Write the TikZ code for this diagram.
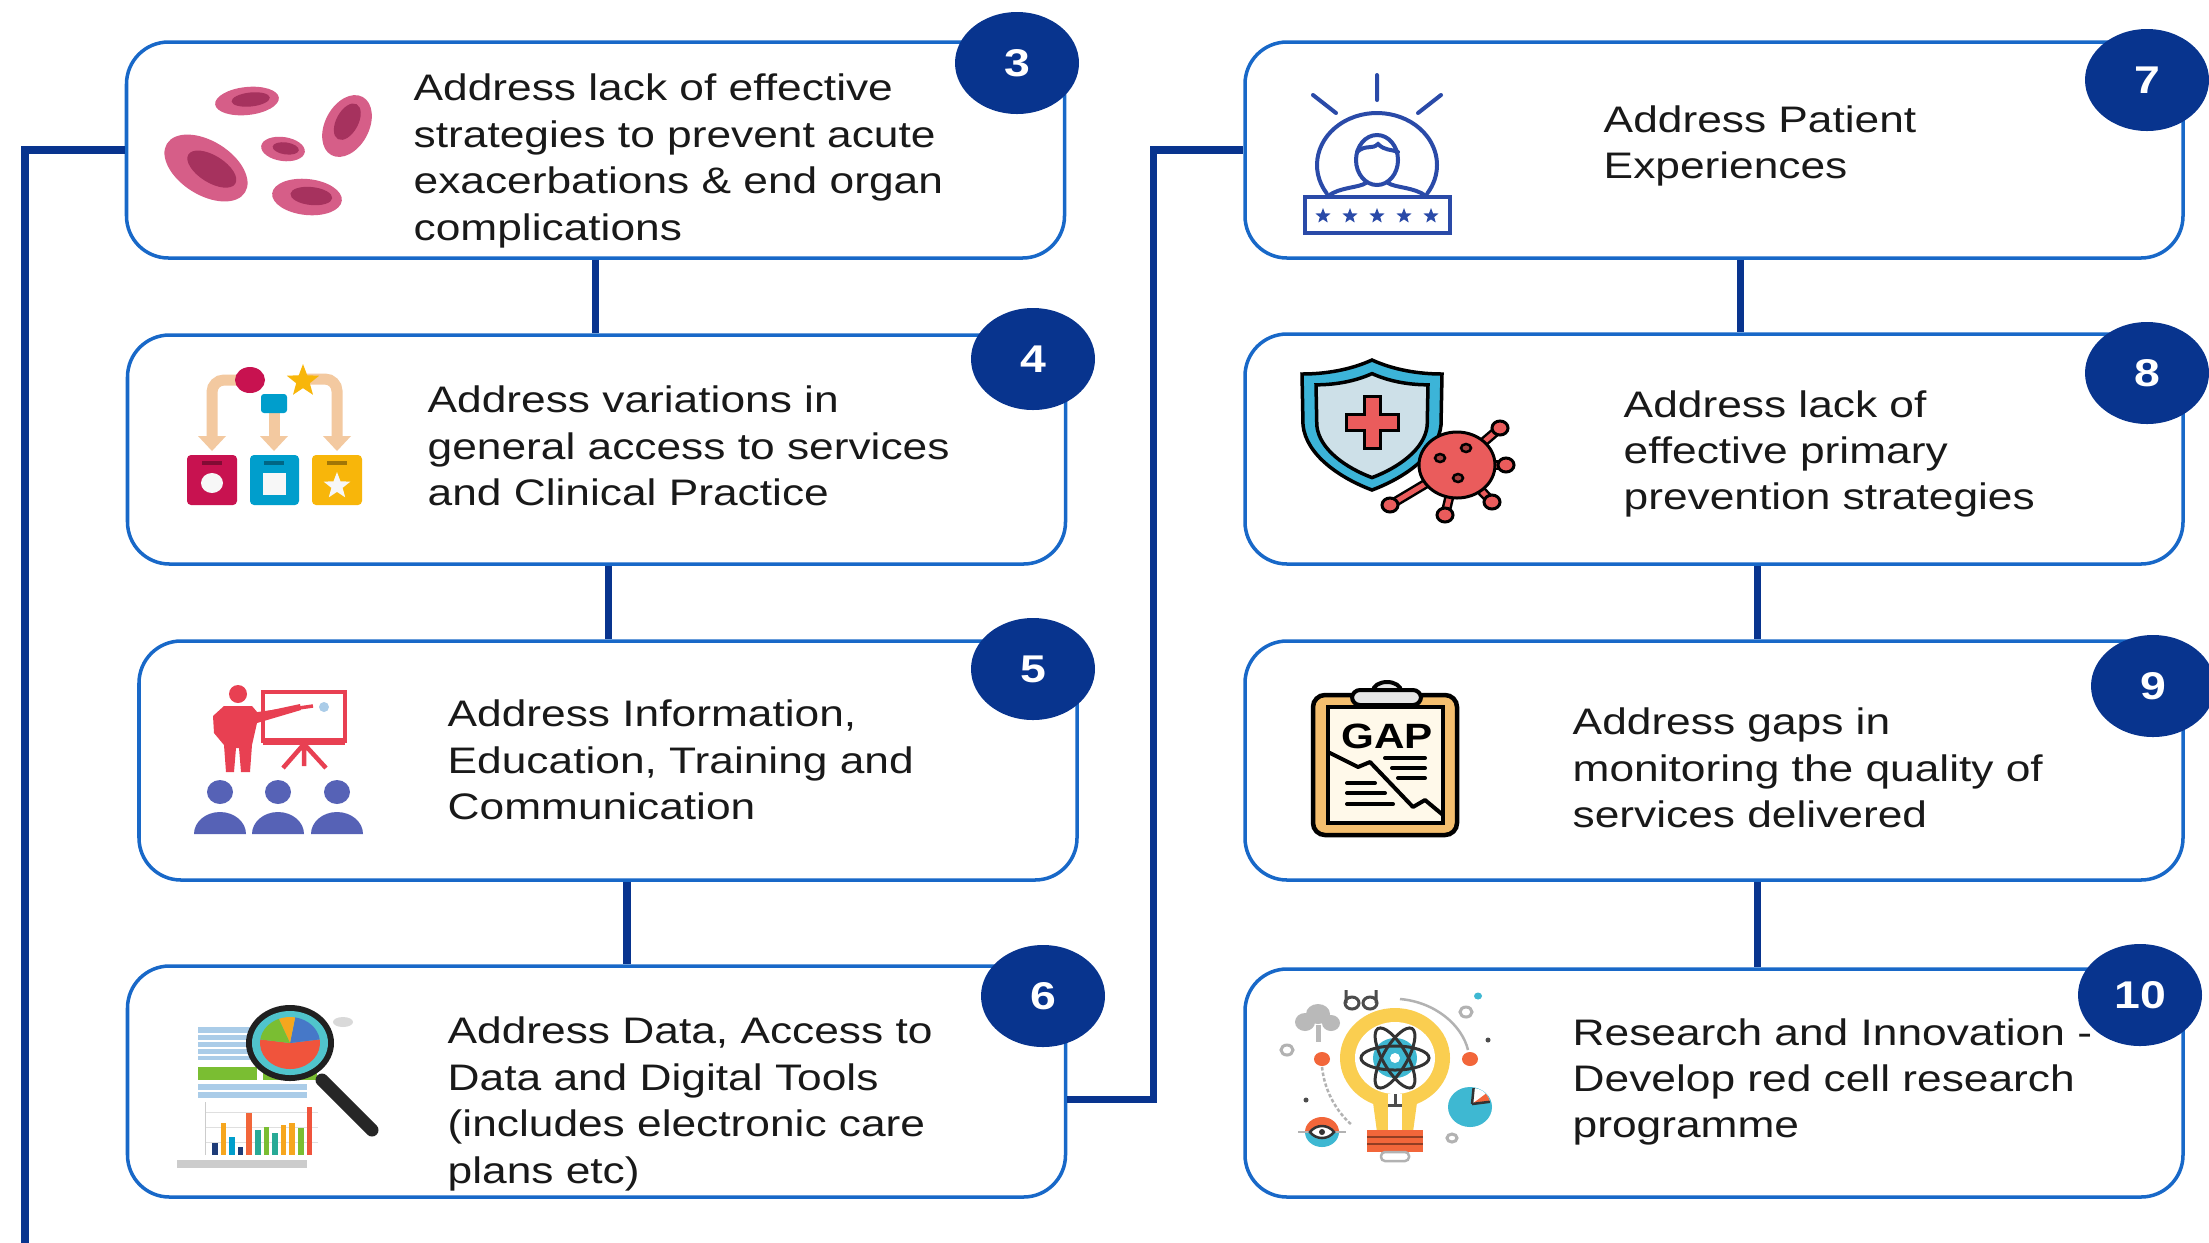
\documentclass[tikz,border=0pt]{standalone}
\usepackage{fontspec}
\setmainfont{Liberation Sans}[FakeStretch=1.2]
\usetikzlibrary{positioning,shapes.geometric,calc}

\definecolor{navy}{RGB}{8,52,142}
\definecolor{cardblue}{RGB}{24,104,200}
\definecolor{cellpink}{RGB}{214,94,136}
\definecolor{cellcore}{RGB}{166,50,94}
\definecolor{tanarrow}{RGB}{243,201,160}
\definecolor{crimson}{RGB}{200,18,80}
\definecolor{skyblue}{RGB}{0,158,204}
\definecolor{amber}{RGB}{248,182,10}
\definecolor{teachred}{RGB}{232,64,82}
\definecolor{crowd}{RGB}{86,98,182}
\definecolor{paleblue}{RGB}{170,204,232}
\definecolor{leaf}{RGB}{122,190,50}
\definecolor{lensteal}{RGB}{80,196,204}
\definecolor{pieblue}{RGB}{70,120,200}
\definecolor{piered}{RGB}{240,84,60}
\definecolor{pieorange}{RGB}{246,166,30}
\definecolor{barnavy}{RGB}{30,60,120}
\definecolor{barteal}{RGB}{40,170,150}
\definecolor{iconblue}{RGB}{42,74,168}
\definecolor{shieldcyan}{RGB}{60,180,216}
\definecolor{shieldpale}{RGB}{205,224,232}
\definecolor{virusred}{RGB}{234,92,92}
\definecolor{clipamber}{RGB}{244,190,110}
\definecolor{papercream}{RGB}{255,249,234}
\definecolor{bulbyellow}{RGB}{250,206,80}
\definecolor{atomteal}{RGB}{62,184,210}
\definecolor{flame}{RGB}{242,102,58}

\tikzset{
  card/.style={draw=cardblue, line width=1pt, rounded corners=4.2mm, fill=white,
    minimum width=93.8mm, inner sep=0pt},
  cardtext/.style={anchor=west, align=left, inner sep=0pt, text=black!90,
    font=\fontsize{10.5}{13.2}\selectfont},
  badge/.style={ellipse, fill=navy, text=white, inner sep=0pt,
    minimum width=12.4mm, minimum height=10.2mm, font=\fontsize{11}{11}\selectfont\bfseries},
  link/.style={draw=navy, line width=2pt},
  iconline/.style={draw=iconblue, line width=0.4mm, line cap=round},
}

\newcommand\starshape[4]{\fill[#4] (#1,#2) +(-90:#3)
  \foreach \k in {1,...,9}{ -- +({-90+36*\k}:{ifthenelse(isodd(\k),0.42*#3,#3)}) } -- cycle;}
\newcommand\bloodcell[5]{%
  \begin{scope}[rotate around={#5:(#1,#2)}]
    \fill[cellpink] (#1,#2) ellipse ({#3} and {#4});
    \fill[cellcore] ({#1+0.12*#3},{#2-0.08*#4}) ellipse ({0.6*#3} and {0.5*#4});
  \end{scope}}
\def\shieldpath{(1372,360) .. controls (1350,370) and (1325,374) .. (1302,374) -- (1303,425)
  .. controls (1306,455) and (1340,478) .. (1372,490) .. controls (1404,478) and (1438,455) .. (1441,425)
  -- (1442,374) .. controls (1419,374) and (1394,370) .. cycle}

\begin{document}
\begin{tikzpicture}[x=0.1mm,y=-0.1mm]
\useasboundingbox (0,0) rectangle (2209,1242);

% cards
\node[card, minimum height=21.6mm] (b3) at (595.5,150) {};
\node[card, minimum height=22.9mm] (b4) at (596.5,449.5) {};
\node[card, minimum height=23.9mm] (b5) at (608,760.5) {};
\node[card, minimum height=23.1mm] (b6) at (596.5,1081.5) {};
\node[card, minimum height=21.6mm] (b7) at (1714,150) {};
\node[card, minimum height=23.0mm] (b8) at (1714,449) {};
\node[card, minimum height=23.9mm] (b9) at (1714,760.5) {};
\node[card, minimum height=22.8mm] (b10) at (1714,1083) {};
\coordinate (rail) at (25,1260);

% links
\draw[link] (b3.west) -| (rail);
\draw[link] (b3.south) -- (b3.south |- b4.north);
\draw[link] ([xshift=1.2mm]b4.south) -- ([xshift=1.2mm]b4.south |- b5.north);
\draw[link] ([xshift=1.9mm]b5.south) -- ([xshift=1.9mm]b5.south |- b6.north);
\draw[link] ([yshift=-1.75mm]b6.east) -- ++(8.6mm,0) |- (b7.west);
\draw[link] ([xshift=2.6mm]b7.south) -- ([xshift=2.6mm]b7.south |- b8.north);
\draw[link] ([xshift=4.3mm]b8.south) -- ([xshift=4.3mm]b8.south |- b9.north);
\draw[link] ([xshift=4.3mm]b9.south) -- ([xshift=4.3mm]b9.south |- b10.north);

% texts
\node[cardtext] (t3) at (413,161) {Address lack of effective\\strategies to prevent acute\\exacerbations \& end organ\\complications};
\node[cardtext] (t4) at (427,446) {Address variations in\\general access to services\\and Clinical Practice};
\node[cardtext] (t5) at (447,760) {Address Information,\\Education, Training and\\Communication};
\node[cardtext] (t6) at (447,1104) {Address Data, Access to\\Data and Digital Tools\\(includes electronic care\\plans etc)};
\node[cardtext] (t7) at (1603,146) {Address Patient\\Experiences};
\node[cardtext] (t8) at (1623,454) {Address lack of\\effective primary\\prevention strategies};
\node[cardtext] (t9) at (1572,768) {Address gaps in\\monitoring the quality of\\services delivered};
\node[cardtext] (t10) at (1572,1082) {Research and Innovation -\\Develop red cell research\\programme};

% red cells
\bloodcell{206}{168}{46}{27}{-32}
\bloodcell{247}{101}{32}{14}{6}
\bloodcell{283}{149}{22}{12}{-8}
\bloodcell{347}{126}{33}{22}{62}
\bloodcell{307}{197}{35}{18}{-6}

% access flow
\begin{scope}[line width=1.1mm, tanarrow, rounded corners=1.2mm]
  \draw (250,380) -- (212,380) -- (212,438);
  \draw (274,405) -- (274,438);
  \draw (303,379) -- (337,379) -- (337,438);
\end{scope}
\foreach \x in {212,274,337}
  \fill[tanarrow] (\x-14,436) -- (\x+14,436) -- (\x,451) -- cycle;
\fill[crimson] (250,380) ellipse (15 and 13);
\starshape{303}{381}{17}{amber}
\fill[skyblue, rounded corners=0.3mm] (261,394) rectangle (287,413);
\fill[crimson, rounded corners=0.4mm] (187,455) rectangle (237,505);
\fill[skyblue, rounded corners=0.4mm] (250,455) rectangle (299,505);
\fill[amber, rounded corners=0.4mm] (312,455) rectangle (362,505);
\foreach \x in {212,274,337}
  \fill[black, opacity=.35] (\x-10,461) rectangle (\x+10,465);
\fill[white!94!gray] (212,483) ellipse (11 and 10);
\fill[white!94!gray] (263,473) rectangle (286,495);
\starshape{337}{486}{14}{white!94!gray}

% presenter and audience
\fill[teachred] (238,694) ellipse (9 and 9);
\fill[teachred] (224,706) -- (252,706) -- (258,713) -- (300,704) -- (301,710) -- (257,723)
  -- (252,745) -- (250,772) -- (241,772) -- (239,748) -- (236,748) -- (234,772) -- (226,772)
  -- (224,745) -- (214,733) -- (213,716) -- cycle;
\draw[teachred, line width=0.35mm] (256,714) -- (313,706);
\draw[teachred, line width=0.45mm] (263,692) rectangle (345,741);
\fill[teachred] (263,738) rectangle (345,745);
\draw[teachred, line width=0.45mm] (304,744) -- (283,768) (304,744) -- (326,768) (304,744) -- (304,766);
\fill[paleblue] (324,707) circle (5);
\foreach \x in {220,278,337}{
  \fill[crowd] (\x,792) ellipse (13 and 12);
  \fill[crowd] (\x-26,834) arc (180:360:26 and 22) -- cycle;
}

% data and magnifier
\fill[paleblue] (198,1027) rectangle (262,1060);
\foreach \y in {1034,1041,1048,1055} \draw[white, line width=0.15mm] (198,\y) -- (262,\y);
\fill[leaf] (198,1067) rectangle (257,1080);
\fill[leaf] (263,1067) rectangle (317,1080);
\fill[paleblue] (198,1084) rectangle (307,1098);
\draw[white, line width=0.15mm] (198,1091) -- (307,1091);
\foreach \y in {1112,1127,1142} \draw[gray!25, line width=0.1mm] (205,\y) -- (318,\y);
\draw[gray!40, line width=0.1mm] (205,1102) -- (205,1155);
\foreach \i/\h/\c in {0/12/barnavy,1/32/pieorange,2/18/skyblue,3/8/barnavy,4/42/flame,
  5/25/barteal,6/28/leaf,7/22/barteal,8/30/pieorange,9/32/pieorange,10/27/leaf,11/48/piered}
  \fill[\c] ({212+8.6*\i},1155) rectangle ++(5.5,-\h);
\fill[gray!40] (177,1160) rectangle (307,1168);
\fill[gray!30] (343,1022) ellipse (10 and 5);
\draw[gray!30!black, line width=1.3mm, line cap=round] (322,1080) -- (372,1130);
\fill[gray!25!black] (290,1043) ellipse (44 and 38);
\fill[lensteal] (290,1043) ellipse (38 and 32);
\fill[piered] (290,1043) -- +(-8:30 and 26) arc (-8:188:30 and 26) -- cycle;
\fill[pieblue] (290,1043) -- +(-8:30 and 26) arc (-8:-80:30 and 26) -- cycle;
\fill[pieorange] (290,1043) -- +(-80:30 and 26) arc (-80:-112:30 and 26) -- cycle;
\fill[leaf] (290,1043) -- +(-112:30 and 26) arc (-112:-172:30 and 26) -- cycle;

% patient rating
\draw[iconline] (1377,75) -- (1377,100) (1313,95) -- (1336,113) (1441,95) -- (1418,113);
\draw[iconline] (1377,165) +(147:60 and 52) arc (147:393:60 and 52);
\draw[iconline] (1377,160) ellipse (21 and 25);
\draw[iconline] (1357,152) .. controls (1366,144) and (1372,150) .. (1378,144)
  .. controls (1385,151) and (1391,149) .. (1398,152);
\draw[iconline] (1328,196) .. controls (1340,187) and (1358,188) .. (1366,183);
\draw[iconline] (1426,196) .. controls (1414,187) and (1396,188) .. (1388,183);
\draw[iconline] (1305,197) rectangle (1450,233);
\foreach \x in {1323,1350,1377,1404,1431} {\starshape{\x}{216}{8}{iconblue}}

% shield and virus
\filldraw[fill=shieldcyan, draw=black, line width=0.35mm] \shieldpath;
\begin{scope}[scale around={0.8:(1372,428)}]
  \filldraw[fill=shieldpale, draw=black, line width=0.35mm] \shieldpath;
\end{scope}
\filldraw[fill=virusred, draw=black, line width=0.3mm] (1364,396) -- (1380,396) -- (1380,414)
  -- (1398,414) -- (1398,430) -- (1380,430) -- (1380,448) -- (1364,448) -- (1364,430)
  -- (1346,430) -- (1346,414) -- (1364,414) -- cycle;
\foreach \p in {(1500,428),(1506,465),(1492,502),(1445,515),(1390,505)}{
  \draw[black, line width=1.0mm] (1457,465) -- \p;
  \draw[virusred, line width=0.5mm] (1457,465) -- \p;
  \filldraw[fill=virusred, draw=black, line width=0.3mm] \p ellipse (8 and 7);
}
\filldraw[fill=virusred, draw=black, line width=0.3mm] (1457,465) ellipse (38 and 33);
\foreach \p in {(1440,458),(1466,448),(1458,478)}
  \filldraw[fill=virusred!70!black, draw=black, line width=0.25mm] \p ellipse (5 and 4);

% gap clipboard
\filldraw[fill=clipamber, draw=black, line width=0.45mm, rounded corners=1.2mm] (1313,695) rectangle (1457,835);
\filldraw[fill=papercream, draw=black, line width=0.4mm] (1328,707) rectangle (1443,823);
\filldraw[fill=gray!20, draw=black, line width=0.4mm] (1373,691) arc (180:360:14 and 9) -- cycle;
\filldraw[fill=gray!20, draw=black, line width=0.4mm, rounded corners=0.8mm] (1352,690) rectangle (1421,705);
\node[font=\fontsize{10}{10}\selectfont\bfseries, inner sep=0pt] (gap) at (1387,736) {GAP};
\draw[black, line width=0.4mm, line join=round] (1328,752) -- (1358,767) -- (1370,762) -- (1413,807)
  -- (1425,800) -- (1443,815);
\draw[black, line width=0.4mm, line cap=round] (1385,758) -- (1425,758) (1392,768) -- (1425,768)
  (1398,778) -- (1425,778) (1347,783) -- (1375,783) (1347,793) -- (1385,793) (1347,804) -- (1393,804);

% idea bulb
\draw[gray!60, line width=0.25mm, dash pattern=on 1pt off 0.6pt] (1322,1067) .. controls (1325,1095) and (1340,1115) .. (1352,1125);
\draw[gray!60, line width=0.25mm] (1400,999) .. controls (1435,1002) and (1462,1025) .. (1468,1050);
\fill[gray!55] (1305,1022) ellipse (10 and 9) (1318,1014) ellipse (12 and 10) (1331,1023) ellipse (9 and 8);
\draw[gray!55, line width=0.5mm] (1318,1025) -- (1318,1042);
\draw[gray!60!black, line width=0.3mm] (1352,1003) ellipse (7 and 6) (1370,1003) ellipse (7 and 6)
  (1346,1003) -- (1346,990) (1376,1003) -- (1376,990);
\draw[gray!60, line width=0.3mm] (1287,1050) ellipse (6 and 5) (1466,1012) ellipse (6 and 5) (1452,1138) ellipse (5 and 4);
\fill[atomteal] (1478,996) ellipse (4 and 3.5);
\fill[gray!60!black] (1488,1040) circle (2.5) (1306,1100) circle (2.5);
\fill[flame] (1322,1059) ellipse (8 and 7) (1470,1059) ellipse (8 and 7);
\fill[bulbyellow] (1395,1058) ellipse (55 and 50);
\fill[bulbyellow] (1372,1095) -- (1418,1095) -- (1413,1132) -- (1377,1132) -- cycle;
\fill[white] (1395,1058) ellipse (40 and 36);
\fill[white] (1388,1094) rectangle (1402,1130);
\draw[gray!60!black, line width=0.3mm] (1388,1105) -- (1402,1105) (1395,1094) -- (1395,1105);
\fill[atomteal] (1395,1058) ellipse (22 and 20);
\foreach \a in {0,60,-60}
  \draw[gray!40!black, line width=0.3mm, rotate around={\a:(1395,1058)}] (1395,1058) ellipse (34 and 12);
\fill[white] (1395,1058) circle (5);
\fill[flame] (1367,1130) rectangle (1423,1152);
\draw[flame!60!black, line width=0.25mm] (1367,1137) -- (1423,1137) (1367,1144) -- (1423,1144);
\filldraw[fill=white, draw=gray!60, line width=0.25mm, rounded corners=0.4mm] (1381,1152) rectangle (1409,1161);
\fill[atomteal] (1470,1107) ellipse (22 and 20);
\fill[white] (1472,1104) -- +(-8:18 and 16) arc (-8:-85:18 and 16) -- cycle;
\fill[flame] (1472,1104) -- +(-8:18 and 16) arc (-8:-40:18 and 16) -- cycle;
\draw[gray!40!black, line width=0.25mm] (1472,1104) -- +(-8:18 and 16) (1472,1104) -- +(-85:18 and 16);
\fill[flame] (1322,1132) +(0:17 and 15) arc (0:-180:17 and 15) -- cycle;
\fill[atomteal] (1322,1132) +(0:17 and 15) arc (0:180:17 and 15) -- cycle;
\draw[gray!60, line width=0.25mm] (1298,1132) -- (1346,1132);
\filldraw[fill=white, draw=gray!40!black, line width=0.25mm] (1310,1132) .. controls (1316,1124) and (1328,1124) .. (1334,1132)
  .. controls (1328,1140) and (1316,1140) .. (1310,1132) -- cycle;
\fill[gray!40!black] (1322,1132) circle (3);

% badges
\node[badge] (n3) at (1017,63) {3};
\node[badge] (n4) at (1033,359) {4};
\node[badge] (n5) at (1033,669) {5};
\node[badge] (n6) at (1043,996) {6};
\node[badge] (n7) at (2147,80) {7};
\node[badge] (n8) at (2147,373) {8};
\node[badge] (n9) at (2153,686) {9};
\node[badge] (n10) at (2140,995) {10};
\end{tikzpicture}
\end{document}
